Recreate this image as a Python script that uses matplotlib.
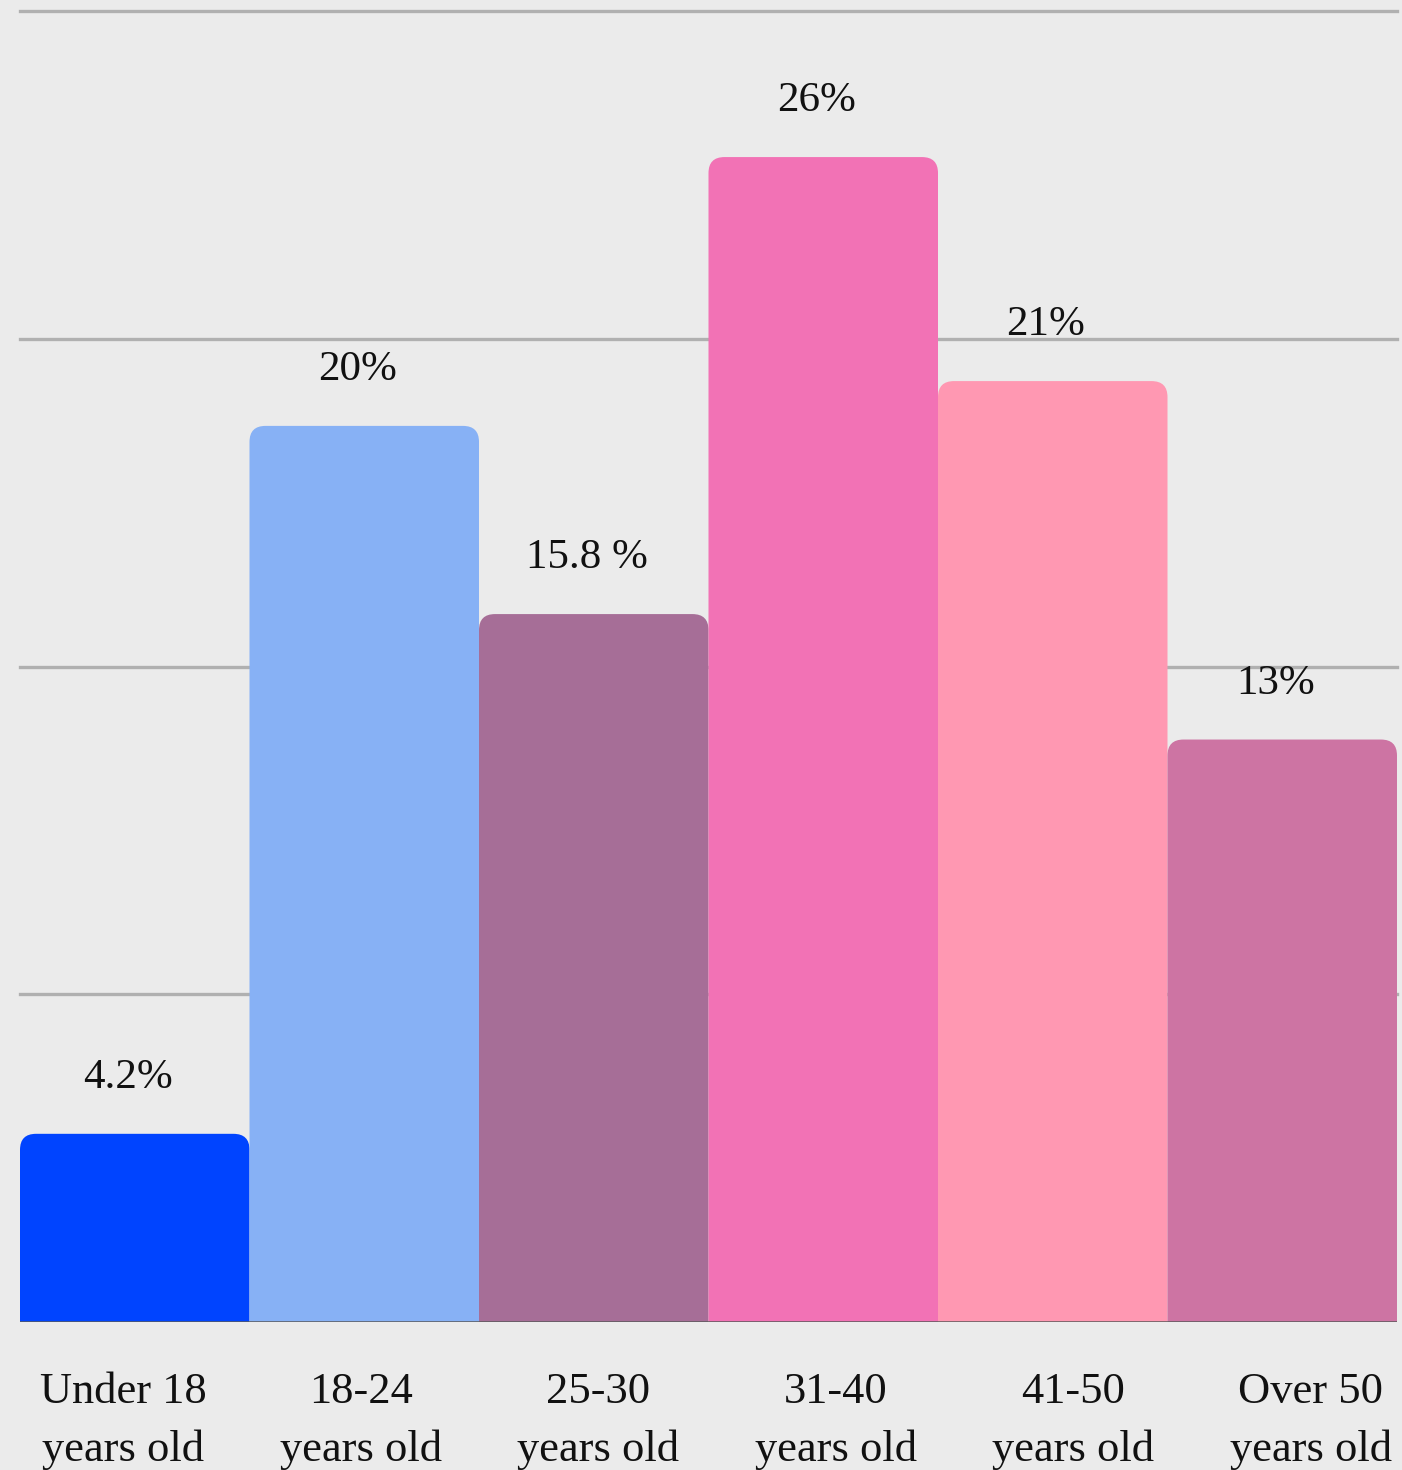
import numpy as np
import matplotlib
matplotlib.use("Agg")
import matplotlib.pyplot as plt
from matplotlib.patches import FancyBboxPatch

# age groups and share of respondents (%)
groups = ["Under 18\nyears old", "18-24\nyears old", "25-30\nyears old",
          "31-40\nyears old", "41-50\nyears old", "Over 50\nyears old"]
shares = [4.2, 20, 15.8, 26, 21, 13]
share_labels = ["4.2%", "20%", "15.8 %", "26%", "21%", "13%"]
colors = ["#0044ff", "#87b1f5", "#a66e97", "#f272b5", "#ff98b2", "#cd74a3"]

ymax = 29.26
bg = "#ebebeb"

plt.rcParams['font.family'] = ['Liberation Serif', 'DejaVu Serif']

fig = plt.figure(figsize=(14.02, 14.70), dpi=100, facecolor=bg)
W, H = 1402, 1470
ax = fig.add_axes([20 / W, 148 / H, 1377 / W, 1311 / H])
ax.set_facecolor(bg)
ax.set_xlim(-0.5, len(shares) - 0.5)
ax.set_ylim(0, ymax)

# horizontal grid
for gy in np.linspace(0, ymax, 5)[1:]:
    ax.axhline(gy, color="#b0b0b0", lw=2.4, zorder=0, clip_on=False)

# bars with rounded tops (bottom corners pushed below the axis and clipped)
px_x = 1.0 / (1377 / len(shares))
px_y = ymax / 1311
radius = 16 * px_x
aspect = px_y / px_x
for i, (v, c) in enumerate(zip(shares, colors)):
    box = FancyBboxPatch((i - 0.5, -2), 1.0, v + 2,
                         boxstyle=f"round,pad=0,rounding_size={radius}",
                         mutation_aspect=aspect, fc=c, ec="none", zorder=2)
    ax.add_patch(box)
    ax.text(i - 0.03, v + 1.25, share_labels[i], ha="center", va="center",
            fontsize=31, color="#111111", zorder=3)

ax.axhline(0, color="#5a5a5a", lw=1.8, zorder=4)

# category labels sit on a slightly wider spacing than the bars
ax.set_xticks(np.linspace(-0.05, 5.125, len(groups)))
ax.set_xticklabels(groups, fontsize=32, color="#111111", linespacing=1.55)
ax.tick_params(axis="x", length=0, pad=36)
ax.set_yticks([])
for s in ax.spines.values():
    s.set_visible(False)

fig.savefig("out.png", dpi=100, facecolor=bg)
